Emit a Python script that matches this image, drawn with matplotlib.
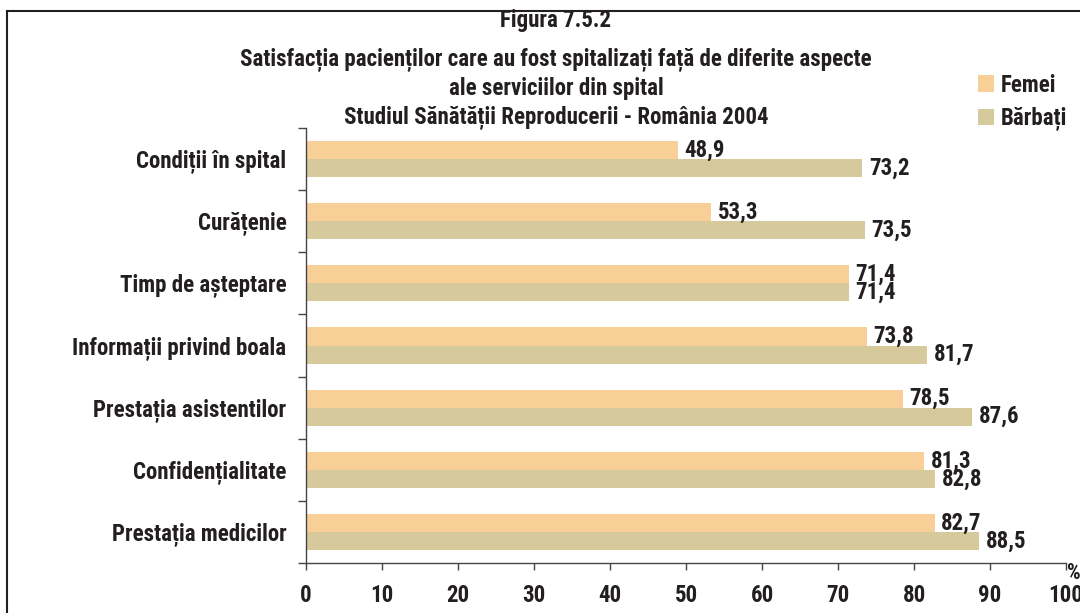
import matplotlib
matplotlib.use("Agg")
import matplotlib.pyplot as plt
import numpy as np

categories = ["Condiții în spital", "Curățenie", "Timp de așteptare",
              "Informații privind boala", "Prestația asistentilor",
              "Confidențialitate", "Prestația medicilor"]
femei = [48.9, 53.3, 71.4, 73.8, 78.5, 81.3, 82.7]
barbati = [73.2, 73.5, 71.4, 81.7, 87.6, 82.8, 88.5]
series_names = ["Femei", "Bărbați"]
xticks = [0, 10, 20, 30, 40, 50, 60, 70, 80, 90, 100]

title_lines = ["Figura 7.5.2",
               "Satisfacția pacienților care au fost spitalizați față de diferite aspecte",
               "ale serviciilor din spital",
               "Studiul Sănătății Reproducerii - România 2004"]

plt.rcParams['font.family'] = ['Roboto Condensed', 'DejaVu Sans']
plt.rcParams['font.weight'] = 'bold'
txt = '#231f20'
c_f = '#f9cf98'
c_b = '#d6c99b'
fs = 16.5

fig = plt.figure(figsize=(10.8, 6.13), dpi=100)
ax = fig.add_axes([306/1080, 1-563/613, 760/1080, 435/613])

y = np.arange(len(categories))
h = 0.29
bf = ax.barh(y - h/2, femei, height=h, color=c_f, label=series_names[0])
bb = ax.barh(y + h/2, barbati, height=h, color=c_b, label=series_names[1])

for bars, vals in ((bf, femei), (bb, barbati)):
    for r, v in zip(bars, vals):
        ax.text(v + 0.9, r.get_y() + r.get_height()/2, f"{v:.1f}".replace('.', ','),
                va='center', ha='left', fontsize=fs, fontweight='bold', color=txt)

ax.set_xlim(0, 100)
ax.set_ylim(len(categories) - 0.5, -0.5)
ax.set_yticks(y)
ax.set_yticklabels(categories)
ax.set_yticks(np.arange(-0.5, len(categories)), minor=True)
ax.tick_params(axis='y', which='major', length=0, pad=14, labelsize=fs, labelcolor=txt)
ax.tick_params(axis='y', which='minor', length=6, width=1, color='#444444', direction='out')
ax.set_xticks(xticks)
ax.tick_params(axis='x', length=5, width=1, color='#444444', direction='out', pad=10,
               labelsize=fs, labelcolor=txt)
for lab in ax.get_xticklabels() + ax.get_yticklabels():
    lab.set_fontweight('bold')

for s in ('top', 'right'):
    ax.spines[s].set_visible(False)
for s in ('left', 'bottom'):
    ax.spines[s].set_color('#444444')
    ax.spines[s].set_linewidth(1)

fig.text(1074/1080, 1-573/613, "%", ha='center', va='center', fontsize=fs - 1,
         fontweight='bold', color=txt)

ty = [21, 60, 89, 118]
for t, yy in zip(title_lines, ty):
    fig.text(556/1080, 1-yy/613, t, ha='center', va='center', fontsize=fs,
             fontweight='bold', color=txt)

fig.legend(handles=[bf, bb], loc='upper left', bbox_to_anchor=(957/1080, 1-53/613),
           frameon=False, handlelength=0.7, handleheight=0.75, handletextpad=0.3,
           labelspacing=0.45, prop={'size': fs, 'weight': 'bold'}, labelcolor=txt)

# border of the figure box
fig.add_artist(plt.Line2D([7/1080, 7/1080], [0, 1-11/613], transform=fig.transFigure,
                          color='#231f20', linewidth=1.5))
fig.add_artist(plt.Line2D([7/1080, 1], [1-11/613, 1-11/613], transform=fig.transFigure,
                          color='#231f20', linewidth=1.5))

fig.savefig("out.png", dpi=100)
